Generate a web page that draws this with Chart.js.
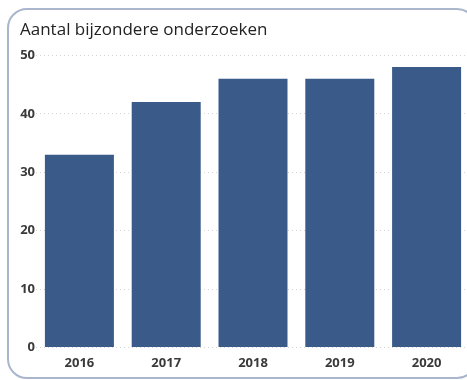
<!DOCTYPE html>
<html>
<head>
<meta charset="utf-8">
<script src="https://cdn.jsdelivr.net/npm/chart.js@4"></script>
<style>
  html, body { margin: 0; padding: 0; background: #fff; }
  body { width: 467px; height: 380px; position: relative; overflow: hidden; }
  .frame {
    position: absolute; left: 7px; top: 8px; width: 470px; height: 371px;
    border: 2px solid #a9b6cb; border-radius: 20px; box-sizing: border-box;
  }
  .wrap { position: absolute; left: 0; top: 0; width: 470px; height: 380px; }
</style>
</head>
<body>
<div class="frame"></div>
<div class="wrap"><canvas id="chart"></canvas></div>
<script>
const years = ['2016', '2017', '2018', '2019', '2020']
const counts = [33, 42, 46, 46, 48]
const yTicks = [0, 10, 20, 30, 40, 50]

const tickFont = { family: 'Open Sans', size: 13, weight: 'bold' }
const ctx = document.getElementById('chart').getContext('2d')

new Chart(ctx, {
  type: 'bar',
  data: {
    labels: years,
    datasets: [{
      label: 'Aantal bijzondere onderzoeken',
      data: counts,
      backgroundColor: '#3a5a89',
      barPercentage: 0.795,
      categoryPercentage: 1
    }]
  },
  options: {
    responsive: true,
    maintainAspectRatio: false,
    animation: false,
    layout: {
      padding: { left: 20, right: 0, top: 14, bottom: 9 }
    },
    scales: {
      x: {
        grid: { display: false },
        border: { display: false },
        ticks: { color: '#3a3a3a', font: tickFont, padding: 0 }
      },
      y: {
        min: 0,
        max: 50,
        afterBuildTicks: axis => { axis.ticks = yTicks.map(v => ({ value: v })) },
        afterFit: axis => { axis.width = 16 },
        grid: { color: '#d4d4d4', drawTicks: false },
        border: { display: false, dash: [1, 3] },
        ticks: { color: '#3a3a3a', font: tickFont, padding: 1 }
      }
    },
    plugins: {
      legend: { display: false },
      tooltip: { enabled: false },
      title: {
        display: true,
        text: 'Aantal bijzondere onderzoeken',
        align: 'start',
        color: '#222',
        font: { family: 'Open Sans', size: 17, weight: 'normal' },
        padding: { top: 6, bottom: 15 }
      }
    }
  }
})
</script>
</body>
</html>
